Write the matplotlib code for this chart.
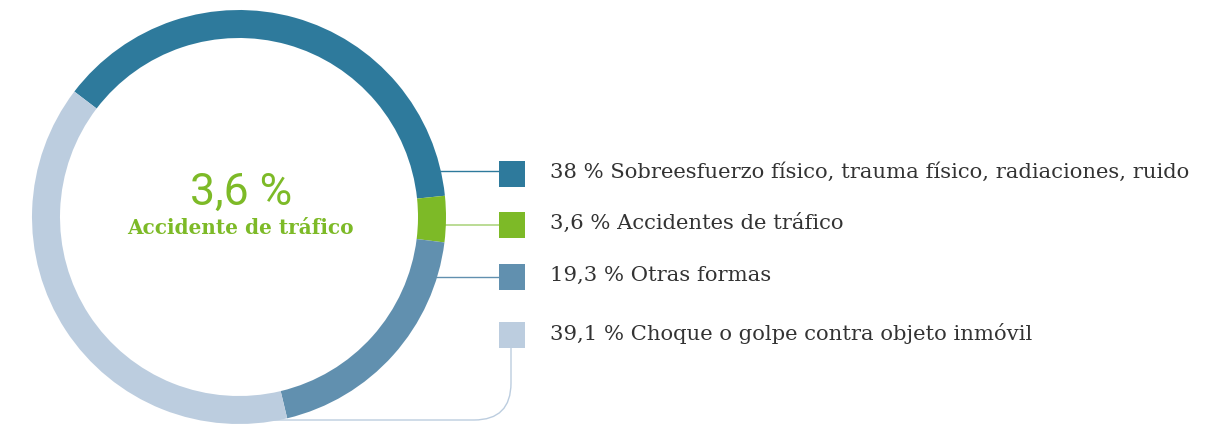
import matplotlib
matplotlib.use("Agg")
import matplotlib.pyplot as plt
from matplotlib.patches import Rectangle, PathPatch
from matplotlib.path import Path

# data
valores = [38, 3.6, 19.3, 39.1]
etiquetas = [
    "38 % Sobreesfuerzo físico, trauma físico, radiaciones, ruido",
    "3,6 % Accidentes de tráfico",
    "19,3 % Otras formas",
    "39,1 % Choque o golpe contra objeto inmóvil",
]
colores = ["#2e7a9c", "#7dba27", "#6190af", "#bccddf"]
colores_linea = ["#2e7a9c", "#b5d98c", "#6190af", "#bccddf"]
centro_valor = "3,6 %"
centro_texto = "Accidente de tráfico"

W, H = 1218, 424


def py(y):
    # pixel row (from top) -> data y
    return H - y


fig = plt.figure(figsize=(W / 100, H / 100), dpi=100)
ax = fig.add_axes([0, 0, 1, 1])

cx, cy, r = 239, 217, 207
ax.pie(
    valores,
    colors=colores,
    startangle=142.7,
    counterclock=False,
    radius=r,
    center=(cx, py(cy)),
    wedgeprops=dict(width=28, linewidth=0),
)
for w in ax.patches:
    w.set_zorder(3)

ax.set_xlim(0, W)
ax.set_ylim(0, H)
ax.set_aspect("equal")
ax.axis("off")

# center text
ax.text(241, py(205), centro_valor, ha="center", va="baseline",
        fontsize=32, color=colores[1], family="Roboto", fontweight="normal")
ax.text(240, py(234), centro_texto, ha="center", va="baseline",
        fontsize=14.4, color=colores[1], family="DejaVu Serif", fontweight="bold")

# legend
ys = [174, 225, 277, 335]
sq = 26
for i, (lab, col) in enumerate(zip(etiquetas, colores)):
    y = ys[i]
    ax.add_patch(Rectangle((499, py(y) - sq / 2), sq, sq, color=col, lw=0, zorder=4))
    ax.text(550, py(y) + 2, lab, ha="left", va="center", fontsize=15.2,
            color="#333333", family="DejaVu Serif")

# connectors
ax.plot([430, 499], [py(171), py(171)], color=colores_linea[0], lw=1, zorder=1)
ax.plot([430, 499], [py(225), py(225)], color=colores_linea[1], lw=1.3, zorder=1)
ax.plot([420, 499], [py(277), py(277)], color=colores_linea[2], lw=1, zorder=1)

rad = 37
verts = [(511, py(348)), (511, py(420 - rad)), (511, py(420)), (511 - rad, py(420)), (240, py(420))]
codes = [Path.MOVETO, Path.LINETO, Path.CURVE3, Path.CURVE3, Path.LINETO]
ax.add_patch(PathPatch(Path(verts, codes), fill=False, edgecolor=colores_linea[3], lw=1, zorder=1))

fig.savefig("out.png", dpi=100)
